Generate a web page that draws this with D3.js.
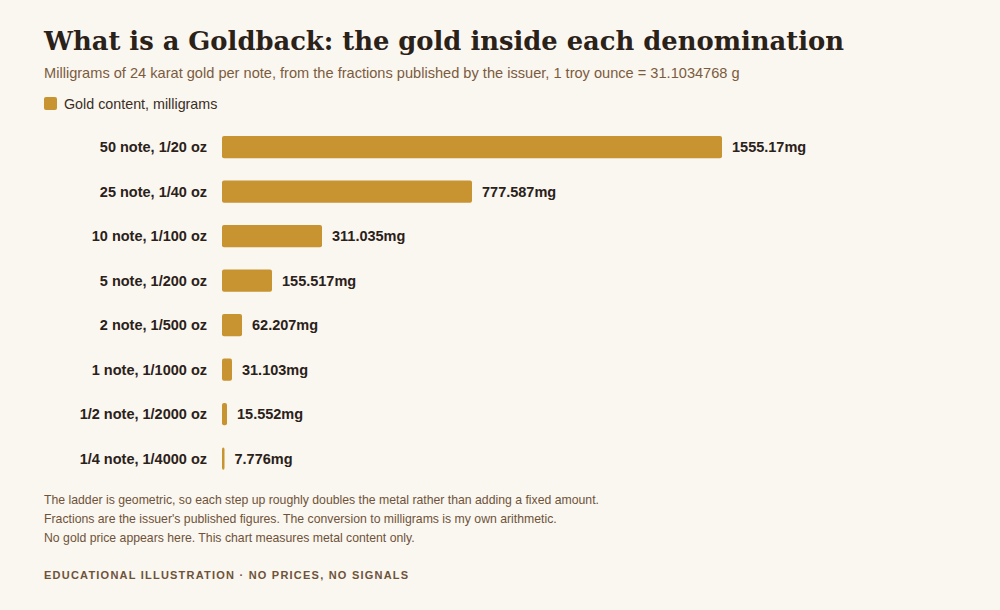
<!DOCTYPE html>
<html><head><meta charset="utf-8">
<script src="https://cdn.jsdelivr.net/npm/d3@7"></script>
<style>
html,body{margin:0;padding:0;background:#faf6f0;}
svg{display:block;}
</style></head>
<body><svg id="chart" width="1000" height="610"></svg>
<script>
const categories = ["50 note, 1/20 oz","25 note, 1/40 oz","10 note, 1/100 oz","5 note, 1/200 oz","2 note, 1/500 oz","1 note, 1/1000 oz","1/2 note, 1/2000 oz","1/4 note, 1/4000 oz"];
const values = [1555.17, 777.587, 311.035, 155.517, 62.207, 31.103, 15.552, 7.776];
const valueLabels = ["1555.17mg","777.587mg","311.035mg","155.517mg","62.207mg","31.103mg","15.552mg","7.776mg"];
const seriesName = "Gold content, milligrams";
const notes = [
 "The ladder is geometric, so each step up roughly doubles the metal rather than adding a fixed amount.",
 "Fractions are the issuer's published figures. The conversion to milligrams is my own arithmetic.",
 "No gold price appears here. This chart measures metal content only."
];

const svg = d3.select("#chart");
const gold = "#c89432";
const sans = "'Liberation Sans', Arial, sans-serif";
svg.append("rect").attr("width",1000).attr("height",610).attr("fill","#faf6f0");

svg.append("text").attr("x",44).attr("y",50)
  .attr("font-family","'DejaVu Serif', serif").attr("font-weight","bold")
  .attr("font-size",25.8).attr("fill","#2a2119")
  .text("What is a Goldback: the gold inside each denomination");
svg.append("text").attr("x",44).attr("y",78)
  .attr("font-family",sans).attr("font-size",14.6).attr("fill","#7a5c3e")
  .text("Milligrams of 24 karat gold per note, from the fractions published by the issuer, 1 troy ounce = 31.1034768 g");

svg.append("rect").attr("x",44).attr("y",97).attr("width",13).attr("height",13).attr("rx",2).attr("fill",gold);
svg.append("text").attr("x",64).attr("y",109)
  .attr("font-family",sans).attr("font-size",14.3).attr("fill","#3a2e24").text(seriesName);

const x = d3.scaleLinear().domain([0, values[0]]).range([222, 722]);
const y = d3.scaleBand().domain(categories).range([124.75, 480.75]).paddingInner(0.5).paddingOuter(0.25);

const g = svg.append("g");
categories.forEach((c,i)=>{
  const yc = y(c) + y.bandwidth()/2;
  g.append("rect").attr("x",x(0)).attr("y",y(c)).attr("width",Math.max(0,x(values[i])-x(0)))
   .attr("height",y.bandwidth()).attr("rx",2).attr("fill",gold);
  g.append("text").attr("x",207).attr("y",yc).attr("dy","0.36em").attr("text-anchor","end")
   .attr("font-family",sans).attr("font-weight","bold").attr("font-size",14.5).attr("fill","#2a2119").text(c);
  g.append("text").attr("x",x(values[i])+10).attr("y",yc).attr("dy","0.36em")
   .attr("font-family",sans).attr("font-weight","bold").attr("font-size",14.5).attr("fill","#2a2119").text(valueLabels[i]);
});

notes.forEach((n,i)=>{
  svg.append("text").attr("x",44).attr("y",504+i*19)
    .attr("font-family",sans).attr("font-size",12.25).attr("fill","#6e5339").text(n);
});
svg.append("text").attr("x",44).attr("y",579)
  .attr("font-family",sans).attr("font-weight","bold").attr("font-size",11)
  .attr("letter-spacing","1.22px").attr("fill","#6e5339")
  .text("EDUCATIONAL ILLUSTRATION · NO PRICES, NO SIGNALS");
</script></body></html>
